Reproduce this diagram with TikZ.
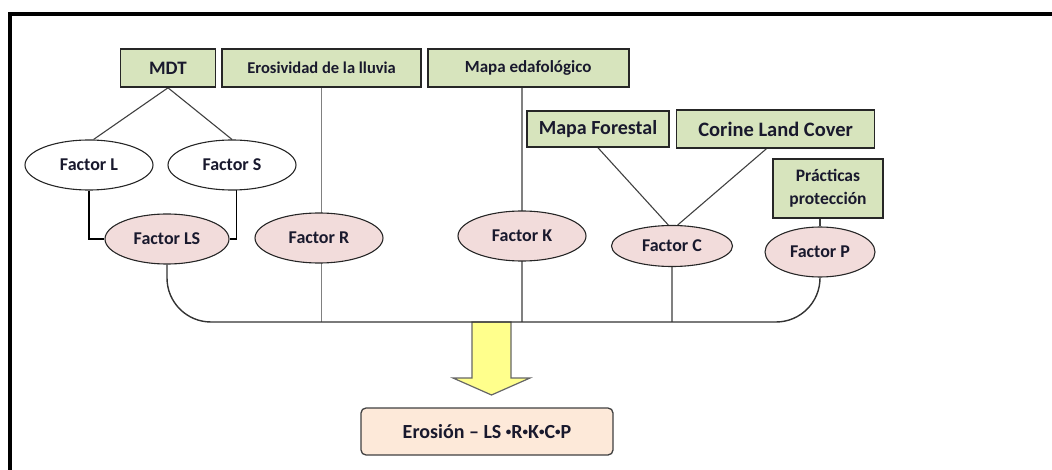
\documentclass[tikz,border=0pt]{standalone}
\usepackage{fontspec}
\setmainfont{Carlito}
\usetikzlibrary{positioning,shapes.geometric,backgrounds}

\definecolor{boxgreen}{RGB}{215,228,189}
\definecolor{ellpink}{RGB}{242,220,219}
\definecolor{respeach}{RGB}{253,233,217}
\definecolor{arrowyel}{RGB}{255,255,140}
\definecolor{txt}{RGB}{25,25,45}

% small raised product dot
\newcommand{\pdot}{\raisebox{3pt}{\scalebox{0.55}{•}}}

\begin{document}
\begin{tikzpicture}[x=1pt, y=-1pt, text=txt,
  src/.style={draw=black!85, line width=1.6pt, fill=boxgreen, inner sep=2pt,
              minimum height=38pt, font=\fontsize{17}{18}\selectfont\bfseries},
  fac/.style={ellipse, draw=black!85, line width=1.1pt, fill=ellpink, inner sep=0pt,
              minimum width=128pt, minimum height=50pt, font=\fontsize{18}{18}\selectfont\bfseries},
  sub/.style={fac, fill=white},
  link/.style={draw=black!75, line width=1.1pt},
  pairline/.style={draw=black, line width=1.2pt},
  stem/.style={draw=black!50, line width=1.3pt},
  bus/.style={draw=black!80, line width=1.4pt},
  bigarrow/.style={draw=black!60, line width=1.2pt, fill=arrowyel},
]
\useasboundingbox (0,0) rectangle (1052,470);

% frame (top and left only)
\draw[line width=4pt] (10,470) -- (10,14) -- (1052,14);

% input layers
\node[src, minimum width=95pt, font=\fontsize{19}{20}\selectfont\bfseries] (mdt) at (168,68) {MDT};
\node[src, minimum width=199pt, right=5pt of mdt, font=\fontsize{16.5}{18}\selectfont\bfseries] (eros) {Erosividad de la lluvia};
\node[src, minimum width=201pt, right=5pt of eros] (edaf) {Mapa edafológico};
\node[src, minimum width=142pt, minimum height=36pt, font=\fontsize{20}{22}\selectfont\bfseries] (forest) at (598,129) {Mapa Forestal};
\node[src, minimum width=198pt, right=6pt of forest, font=\fontsize{20.5}{22}\selectfont\bfseries] (corine) {Corine Land Cover};
\node[src, minimum width=110pt, minimum height=59pt, align=center,
      font=\fontsize{17.5}{23}\selectfont\bfseries] (pract) at (828,188.5) {Prácticas\\protección};

% USLE factors
\node[sub] (fl) at (89,165) {Factor L};
\node[sub] (fs) at (232,165) {Factor S};
\node[fac, minimum width=124pt] (ls) at (167,239) {Factor LS};
\node[fac] (fr) at (319,238) {Factor R};
\node[fac] (fk) at (522,236) {Factor K};
\node[fac, minimum width=121pt, minimum height=41pt] (fc) at (672,246) {Factor C};
\node[fac, minimum width=110pt] (fp) at (820,252) {Factor P};

\node[draw=black!75, line width=1.3pt, rounded corners=5pt, fill=respeach,
      minimum width=252pt, minimum height=47pt, font=\fontsize{20}{22}\selectfont\bfseries]
      (eq) at (487,431.5) {Erosión – LS \pdot R\pdot K\pdot C\pdot P};

\coordinate (bus) at (491.5,322);

\begin{scope}[on background layer]
  \draw[bigarrow] (bus) ++(-19.5,0) -- ++(0,56) -- ++(-19,0) -- ++(38.5,17)
    -- ++(38.5,-17) -- ++(-19,0) -- ++(0,-56) -- cycle;
  % straight drops to the bus
  \draw[stem] (eros.south) -- (eros.south |- bus);
  \draw[stem] (fk |- edaf.south) -- (fk |- bus);
  \draw[stem] (fc.south) -- (fc.south |- bus);
  % MDT -> L, S -> LS
  \draw[link] (mdt.south) -- (fl.80);
  \draw[link] (mdt.south) -- (fs.north);
  \draw[pairline] (fl.south) |- (ls.west);
  \draw[pairline] (fs.-80) |- (ls.east);
  % cover maps -> C, practices -> P
  \draw[link] (forest.south) -- (fc.100);
  \draw[link] (corine.-115) -- (fc.75);
  \draw[link] (fp.north |- pract.south) -- (fp.north);
  % bus
  \draw[bus, rounded corners=44pt] (ls.south) |- (fp.south |- bus) -- (fp.south);
\end{scope}
\end{tikzpicture}
\end{document}
